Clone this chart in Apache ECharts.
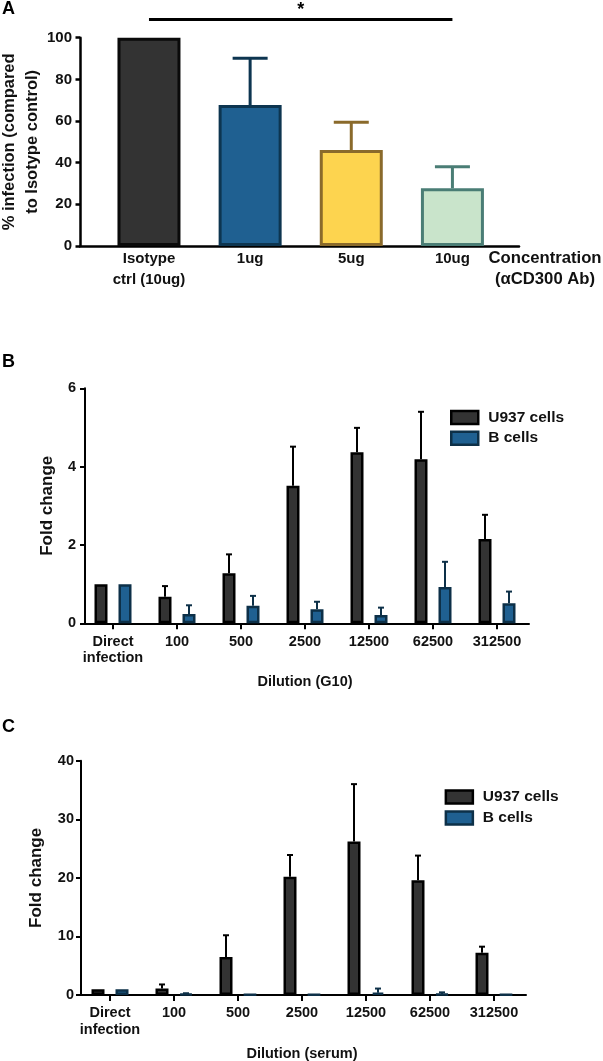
<!DOCTYPE html>
<html><head><meta charset="utf-8">
<script src="https://cdn.jsdelivr.net/npm/echarts@6/dist/echarts.min.js"></script>
<style>html,body{margin:0;padding:0;background:#fff}#c{width:603px;height:1061px}</style>
</head><body><div id="c"></div>
<script>
// ---------- data ----------
const catsA = ['Isotype\nctrl (10ug)', '1ug', '5ug', '10ug'];
const meanA = [100, 67.7, 46.1, 27.7];
const sdA = [0, 22.4, 13.3, 10.4];
const sigA = { from: 0, to: 3, level: 108.8, label: '*' };

const catsBC = ['Direct\ninfection', '100', '500', '2500', '12500', '62500', '312500'];
const u937B = [1, 0.68, 1.28, 3.51, 4.37, 4.19, 2.15];
const u937BErr = [0, 0.27, 0.48, 1.0, 0.62, 1.21, 0.62];
const bcellB = [1, 0.24, 0.45, 0.36, 0.21, 0.93, 0.51];
const bcellBErr = [0, 0.22, 0.25, 0.19, 0.19, 0.64, 0.30];

const u937C = [1, 1.1, 6.5, 20.2, 26.2, 19.6, 7.2];
const u937CErr = [0, 0.7, 3.7, 3.7, 9.8, 4.2, 1.05];
const bcellC = [1, 0.2, 0.05, 0.05, 0.4, 0.15, 0.05];
const bcellCErr = [0, 0.1, 0, 0, 0.7, 0.3, 0];

const seriesNames = ['U937 cells', 'B cells'];

// ---------- styles ----------
const FONT = "'Liberation Sans', Arial, sans-serif";
const INK = '#111';
const fillA = ['#333333', '#1f6091', '#fdd44f', '#c9e4cb'];
const edgeA = ['#0a0a0a', '#0d3550', '#8a6a2b', '#4a7d75'];
const U_FILL = '#333333', U_EDGE = '#000000';
const B_FILL = '#1f6091', B_EDGE = '#0d3048';
const BW = 13, GAP = 11; // bar width and gap in px for B/C
const OFF = (BW + GAP) / 2;

function errRender(offset, capHalf, colorFn, lw) {
  return function (params, api) {
    const i = api.value(0), m = api.value(1), u = api.value(2);
    if (!(u > m)) return null;
    const p0 = api.coord([i, m]), p1 = api.coord([i, u]);
    const x = p0[0] + offset;
    const c = colorFn(params.dataIndex);
    return {
      type: 'group', children: [
        { type: 'line', shape: { x1: x, y1: p0[1], x2: x, y2: p1[1] }, style: { stroke: c, lineWidth: lw } },
        { type: 'line', shape: { x1: x - capHalf, y1: p1[1], x2: x + capHalf, y2: p1[1] }, style: { stroke: c, lineWidth: lw } }
      ]
    };
  };
}
const errData = (m, e) => m.map((v, i) => [i, v, v + e[i]]);

const txt = (size, extra) => Object.assign({ fontFamily: FONT, fontWeight: 'bold', fontSize: size, color: INK }, extra || {});

const axisLineBlack = (w) => ({ show: true, lineStyle: { color: '#000', width: w } });

const chart = echarts.init(document.getElementById('c'), null, { renderer: 'canvas' });
chart.setOption({
  animation: false,
  backgroundColor: '#fff',
  title: [
    { text: 'A', left: 2, top: 0, padding: 0, textStyle: txt(18, { color: '#000' }) },
    { text: 'B', left: 2, top: 353, padding: 0, textStyle: txt(18, { color: '#000' }) },
    { text: 'C', left: 2, top: 718, padding: 0, textStyle: txt(18, { color: '#000' }) }
  ],
  legend: [
    { data: seriesNames, orient: 'vertical', left: 450, top: 409.5, padding: 0, icon: 'rect',
      itemWidth: 27, itemHeight: 13, itemGap: 4.7, selectedMode: false,
      itemStyle: { borderWidth: 2.5 },
      textStyle: txt(15.5, { lineHeight: 16, padding: [0, 0, 0, 5] }) },
    { data: seriesNames, orient: 'vertical', left: 444.6, top: 789, padding: 0, icon: 'rect',
      itemWidth: 27, itemHeight: 13, itemGap: 5, selectedMode: false,
      itemStyle: { borderWidth: 2.5 },
      textStyle: txt(15.5, { lineHeight: 16, padding: [0, 0, 0, 5] }) }
  ],
  grid: [
    { left: 98.4, top: 16.9, width: 404.6, height: 229.1, outerBoundsMode: 'none', containLabel: false },
    { left: 80, top: 37.7, width: 439, height: 208.3, outerBoundsMode: 'none', containLabel: false },
    { left: 81, top: 388.3, width: 448, height: 235, outerBoundsMode: 'none', containLabel: false },
    { left: 78, top: 760.7, width: 448, height: 234.3, outerBoundsMode: 'none', containLabel: false }
  ],
  xAxis: [
    { gridIndex: 0, type: 'category', data: catsA, axisLine: { show: false }, axisTick: { show: false },
      axisLabel: txt(15, { lineHeight: 21, margin: 2, interval: 0 }) },
    { gridIndex: 1, type: 'value', min: 0, max: 1, axisLine: axisLineBlack(2.5), axisTick: { show: false },
      axisLabel: { show: false }, splitLine: { show: false },
      name: 'Concentration\n(\u03b1CD300 Ab)', nameLocation: 'end', nameGap: 26,
      nameTextStyle: txt(16.7, { align: 'center', verticalAlign: 'top', lineHeight: 21, padding: [2, 0, 0, 0] }) },
    { gridIndex: 2, type: 'category', data: catsBC, axisLine: axisLineBlack(2),
      axisTick: { show: true, alignWithLabel: true, length: 6, lineStyle: { color: '#000', width: 2 } },
      axisLabel: txt(14.5, { lineHeight: 16.6, margin: 10, interval: 0 }),
      name: 'Dilution (G10)', nameLocation: 'middle', nameGap: 51, nameTextStyle: txt(14.5) },
    { gridIndex: 3, type: 'category', data: catsBC, axisLine: axisLineBlack(2),
      axisTick: { show: true, alignWithLabel: true, length: 6, lineStyle: { color: '#000', width: 2 } },
      axisLabel: txt(14.5, { lineHeight: 16.6, margin: 10, interval: 0 }),
      name: 'Dilution (serum)', nameLocation: 'middle', nameGap: 51, nameTextStyle: txt(14.5) }
  ],
  yAxis: [
    { gridIndex: 0, type: 'value', min: 0, max: 110, show: false },
    { gridIndex: 1, type: 'value', min: 0, max: 100, interval: 20, axisLine: axisLineBlack(2.5),
      axisTick: { show: true, length: 4.5, lineStyle: { color: '#000', width: 2.5 } },
      axisLabel: txt(15, { margin: 8 }), splitLine: { show: false },
      name: '% infection (compared\nto Isotype control)', nameLocation: 'middle', nameGap: 36.5,
      nameMoveOverlap: false,
      nameTextStyle: txt(16.5, { lineHeight: 23 }) },
    { gridIndex: 2, type: 'value', min: 0, max: 6, interval: 2, offset: -4, axisLine: axisLineBlack(2),
      axisTick: { show: true, length: 5, lineStyle: { color: '#000', width: 2 } },
      axisLabel: txt(14.5, { margin: 9 }), splitLine: { show: false },
      name: 'Fold change', nameLocation: 'middle', nameGap: 29.5, nameTextStyle: txt(17) },
    { gridIndex: 3, type: 'value', min: 0, max: 40, interval: 10, offset: -3, axisLine: axisLineBlack(2),
      axisTick: { show: true, length: 5, lineStyle: { color: '#000', width: 2 } },
      axisLabel: txt(14.5, { margin: 7 }), splitLine: { show: false },
      name: 'Fold change', nameLocation: 'middle', nameGap: 36, nameTextStyle: txt(17) }
  ],
  series: [
    // ---- Panel A ----
    { type: 'bar', xAxisIndex: 0, yAxisIndex: 0, barWidth: 63, clip: false,
      data: meanA.map((v, i) => ({ value: v, itemStyle: { color: fillA[i], borderColor: edgeA[i] } })),
      itemStyle: { borderWidth: 3 }, z: 2,
      markLine: {
        silent: true, symbol: ['none', 'none'],
        lineStyle: { color: '#000', width: 3, type: 'solid' },
        label: { show: true, position: 'insideMiddleTop', distance: 0, formatter: sigA.label,
          fontFamily: FONT, fontWeight: 'bold', fontSize: 18, color: '#000' },
        data: [[{ coord: [sigA.from, sigA.level] }, { coord: [sigA.to, sigA.level] }]]
      } },
    { type: 'custom', xAxisIndex: 0, yAxisIndex: 0, z: 3, encode: { x: 0, y: [1, 2] },
      data: errData(meanA, sdA), renderItem: errRender(0, 17.5, (i) => edgeA[i], 3) },
    // ---- Panel B ----
    { type: 'bar', name: seriesNames[0], xAxisIndex: 2, yAxisIndex: 2, barWidth: BW, barGap: (GAP / BW * 100) + '%',
      data: u937B, itemStyle: { color: U_FILL, borderColor: U_EDGE, borderWidth: 2.5 }, z: 2 },
    { type: 'bar', name: seriesNames[1], xAxisIndex: 2, yAxisIndex: 2, barWidth: BW, barGap: (GAP / BW * 100) + '%',
      data: bcellB, itemStyle: { color: B_FILL, borderColor: B_EDGE, borderWidth: 2.5 }, z: 2 },
    { type: 'custom', xAxisIndex: 2, yAxisIndex: 2, z: 3, encode: { x: 0, y: [1, 2] },
      data: errData(u937B, u937BErr), renderItem: errRender(-OFF, 3, () => U_EDGE, 2) },
    { type: 'custom', xAxisIndex: 2, yAxisIndex: 2, z: 3, encode: { x: 0, y: [1, 2] },
      data: errData(bcellB, bcellBErr), renderItem: errRender(OFF, 3, () => B_EDGE, 2) },
    // ---- Panel C ----
    { type: 'bar', name: seriesNames[0], xAxisIndex: 3, yAxisIndex: 3, barWidth: BW, barGap: (GAP / BW * 100) + '%',
      data: u937C, itemStyle: { color: U_FILL, borderColor: U_EDGE, borderWidth: 2.5 }, z: 2 },
    { type: 'bar', name: seriesNames[1], xAxisIndex: 3, yAxisIndex: 3, barWidth: BW, barGap: (GAP / BW * 100) + '%',
      data: bcellC, itemStyle: { color: B_FILL, borderColor: B_EDGE, borderWidth: 2.5 }, z: 2 },
    { type: 'custom', xAxisIndex: 3, yAxisIndex: 3, z: 3, encode: { x: 0, y: [1, 2] },
      data: errData(u937C, u937CErr), renderItem: errRender(-OFF, 3, () => U_EDGE, 2) },
    { type: 'custom', xAxisIndex: 3, yAxisIndex: 3, z: 3, encode: { x: 0, y: [1, 2] },
      data: errData(bcellC, bcellCErr), renderItem: errRender(OFF, 3, () => B_EDGE, 2) }
  ]
});
</script></body></html>
